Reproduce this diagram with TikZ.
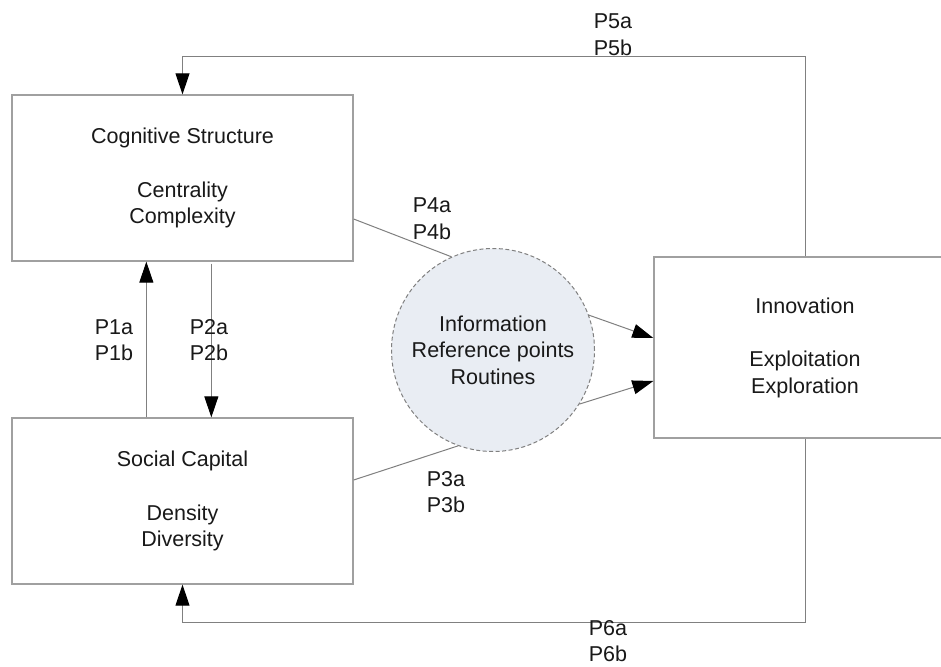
\documentclass[tikz,border=0pt]{standalone}
\usepackage{fontspec}
\setmainfont{Liberation Sans}
\usetikzlibrary{arrows.meta,calc}
\definecolor{boxline}{RGB}{160,160,160}
\definecolor{connc}{RGB}{128,128,128}
\definecolor{circfill}{RGB}{233,237,243}
\definecolor{txt}{RGB}{25,25,25}
\begin{document}
\begin{tikzpicture}[x=1pt,y=-1pt,
  every node/.style={font=\fontsize{21.5}{26.5}\selectfont, text=txt},
  box/.style={draw=boxline,line width=1.3pt,rectangle,inner sep=0pt,align=center},
  mediator/.style={circle,draw=connc,dash pattern=on 4pt off 2.5pt,fill=circfill,line width=1pt,minimum size=203pt,inner sep=0pt,align=center},
  conn/.style={draw=connc,line width=1pt},
  arr/.style={conn,-{Triangle[length=21pt,width=14pt,color=black]}},
  lab/.style={align=center,inner sep=0pt}]
\clip (0,0) rectangle (941,666);
\fill[white] (0,0) rectangle (941,666);
\node[box,minimum width=341,minimum height=166] (cog) at (182.5,178) {Cognitive Structure\\[27pt]Centrality\\Complexity};
\node[box,minimum width=341,minimum height=166] (soc) at (182.5,501) {Social Capital\\[27pt]Density\\Diversity};
\node[box,minimum width=302,minimum height=181] (inn) at (805,347.5) {Innovation\\[27pt]Exploitation\\Exploration};
\node[mediator] (med) at (493,350) {Information\\Reference points\\Routines};
\coordinate (top) at (0,57);
\coordinate (bot) at (0,622);
% P1 / P2
\draw[arr] ([xshift=135pt]soc.north west) -- ([xshift=135pt]cog.south west);
\draw[arr] ([xshift=200pt,yshift=-2pt]cog.south west) -- ([xshift=200pt]soc.north west);
% P5 / P6 feedback
\draw[arr] (inn.north) -- (inn.north |- top) -| (cog.north);
\draw[arr] (inn.south) -- (inn.south |- bot) -| (soc.south);
% P4 / P3
\draw[conn] ([yshift=-41pt]cog.east) -- (med.114);
\draw[conn] ([yshift=21pt]soc.east) -- (med.250);
% mediator to innovation
\draw[arr] (med.20) -- ([yshift=9.5pt]inn.west);
\draw[arr] (med.-32) -- ([yshift=-33.5pt]inn.west);
% labels
\node[lab] (p1) at (114,340) {P1a\\P1b};
\node[lab] (p2) at (209,340) {P2a\\P2b};
\node[lab] (p4) at (432,218.5) {P4a\\P4b};
\node[lab] (p3) at (446,492) {P3a\\P3b};
\node[lab] (p5) at (613,34.5) {P5a\\P5b};
\node[lab] (p6) at (608,641) {P6a\\P6b};
\end{tikzpicture}
\end{document}
